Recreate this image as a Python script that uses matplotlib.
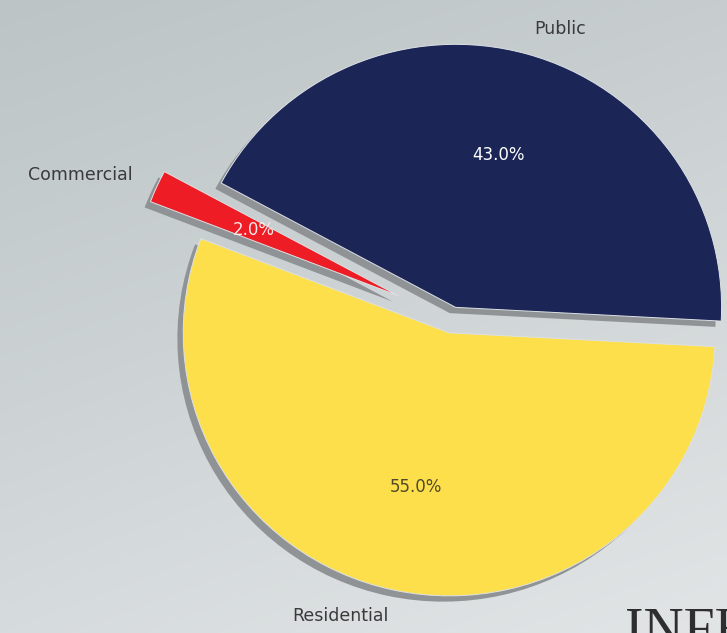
import matplotlib
matplotlib.use('Agg')
import matplotlib.pyplot as plt
import numpy as np

# ---- data ----
categories = ['Public', 'Commercial', 'Residential']
shares = [43.0, 2.0, 55.0]
slice_colors = ['#1b2657', '#ee1c24', '#fddf4b']
pct_colors = ['#ffffff', '#fbe9e9', '#4f4a2a']
explode = [0.05, 0.22, 0.05]

W, H = 727, 633
fig = plt.figure(figsize=(W / 100, H / 100), dpi=100)

# background gradient
bg = fig.add_axes([0, 0, 1, 1], zorder=0)
tl = np.array([188, 196, 198]) / 255
tr = np.array([199, 205, 207]) / 255
bl = np.array([214, 219, 221]) / 255
br = np.array([226, 229, 230]) / 255
yy, xx = np.mgrid[0:1:H * 1j, 0:1:W * 1j]
img = (tl[None, None] * ((1 - xx) * (1 - yy))[..., None]
       + tr[None, None] * (xx * (1 - yy))[..., None]
       + bl[None, None] * ((1 - xx) * yy)[..., None]
       + br[None, None] * (xx * yy)[..., None])
bg.imshow(img, aspect='auto', extent=(0, 1, 0, 1), origin='upper')
bg.set_axis_off()

ax = fig.add_axes([0, 0, 1, 1], zorder=1)
ax.set_facecolor('none')

start = -3
# shadow
ax.pie(shares, colors=['#909396'] * 3, explode=explode, startangle=start,
       center=(-0.022, -0.022), radius=1)
# main pie
wedges, texts, autotexts = ax.pie(
    shares, labels=categories, colors=slice_colors, explode=explode,
    startangle=start, autopct='%1.1f%%', pctdistance=0.6, labeldistance=1.1,
    radius=1, center=(0, 0),
    textprops=dict(fontsize=12.5, color='#3a3a3a', family='DejaVu Sans'),
    wedgeprops=dict(edgecolor='#dde1e4', linewidth=0.7))
for t, c in zip(autotexts, pct_colors):
    t.set_color(c)
    t.set_fontsize(12)

# pixel-matched limits
cx, cy = 452, 320
sx, sy = 266, 263
ax.set_aspect('auto')
ax.set_xlim(-cx / sx, (W - cx) / sx)
ax.set_ylim(-(H - cy) / sy, cy / sy)
ax.set_axis_off()

fig.text(625 / W, (H - 647) / H, 'INFE', fontsize=40, family='Liberation Serif',
         color='#2e2e2e', ha='left', va='baseline', zorder=3)

fig.savefig('out.png', dpi=100)
